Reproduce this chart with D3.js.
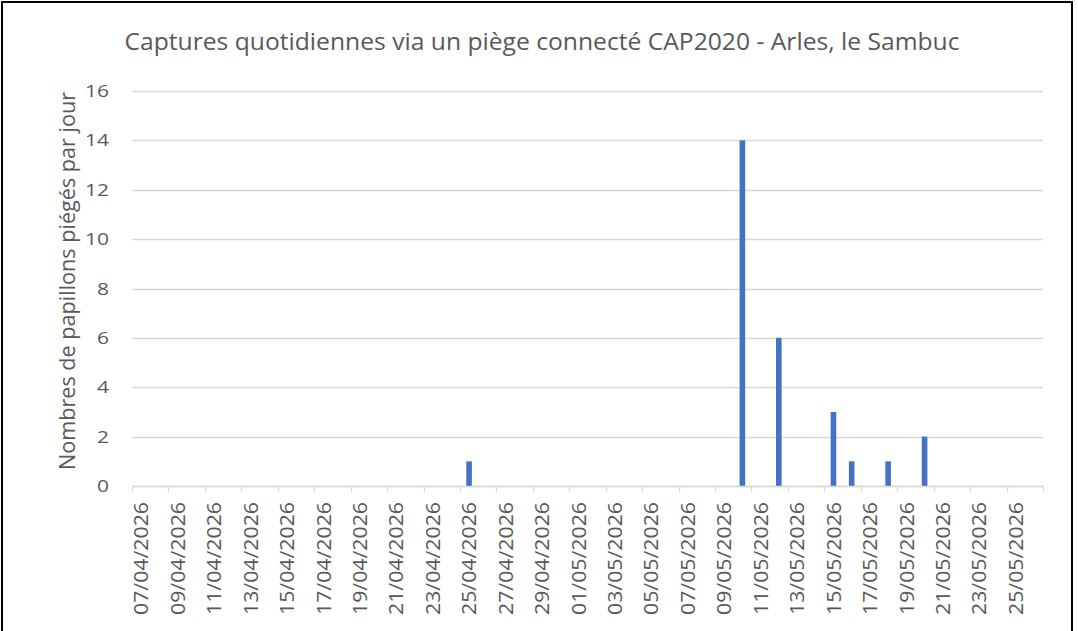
<!DOCTYPE html>
<html>
<head>
<meta charset="utf-8">
<script src="https://cdn.jsdelivr.net/npm/d3@7"></script>
<style>
  body { margin: 0; background: #fff; }
  svg { display: block; }
</style>
</head>
<body>
<div class="chart"></div>
<script>
// daily catches, one entry per day from 07/04/2026 to 26/05/2026
var days = [
  "07/04/2026","08/04/2026","09/04/2026","10/04/2026","11/04/2026","12/04/2026","13/04/2026",
  "14/04/2026","15/04/2026","16/04/2026","17/04/2026","18/04/2026","19/04/2026","20/04/2026",
  "21/04/2026","22/04/2026","23/04/2026","24/04/2026","25/04/2026","26/04/2026","27/04/2026",
  "28/04/2026","29/04/2026","30/04/2026","01/05/2026","02/05/2026","03/05/2026","04/05/2026",
  "05/05/2026","06/05/2026","07/05/2026","08/05/2026","09/05/2026","10/05/2026","11/05/2026",
  "12/05/2026","13/05/2026","14/05/2026","15/05/2026","16/05/2026","17/05/2026","18/05/2026",
  "19/05/2026","20/05/2026","21/05/2026","22/05/2026","23/05/2026","24/05/2026","25/05/2026",
  "26/05/2026"
];
var captures = [
  0,0,0,0,0,0,0,
  0,0,0,0,0,0,0,
  0,0,0,0,1,0,0,
  0,0,0,0,0,0,0,
  0,0,0,0,0,14,0,
  6,0,0,3,1,0,1,
  0,2,0,0,0,0,0,
  0
];
var yTicks = [0, 2, 4, 6, 8, 10, 12, 14, 16];
var tickLabels = days.filter(function (d, i) { return i % 2 === 0; });

var title = "Captures quotidiennes via un piège connecté CAP2020 - Arles, le Sambuc";
var yTitle = "Nombres de papillons piégés par jour";

var W = 1078, H = 631;
var plotLeft = 132, plotRight = 1043, plotTop = 91, plotBottom = 486;
var font = "'Open Sans', sans-serif";
var grey = "#595959";

var svg = d3.select(".chart")
    .append("svg")
    .attr("width", W)
    .attr("height", H)

// outer frame
svg.append("rect")
    .attr("x", 2).attr("y", 2)
    .attr("width", 1070).attr("height", 640)
    .attr("fill", "#fff")
    .attr("stroke", "#000")
    .attr("stroke-width", 2)

var x = d3.scaleBand()
    .domain(days)
    .range([plotLeft, plotRight])

var y = d3.scaleLinear()
    .domain([0, 16])
    .range([plotBottom, plotTop])

// gridlines
svg.append("g")
    .selectAll("line")
    .data(yTicks)
    .enter()
    .append("line")
    .attr("x1", plotLeft)
    .attr("x2", plotRight)
    .attr("y1", function (d) { return Math.round(y(d)) + 0.5; })
    .attr("y2", function (d) { return Math.round(y(d)) + 0.5; })
    .attr("stroke", "#d9d9d9")
    .attr("stroke-width", 1.3)

// y labels
svg.append("g")
    .selectAll("text")
    .data(yTicks)
    .enter()
    .append("text")
    .attr("x", 109)
    .attr("y", function (d) { return y(d); })
    .attr("dy", "0.36em")
    .attr("text-anchor", "end")
    .attr("font-family", font)
    .style("font-size", "17px")
    .attr("textLength", function (d) { return String(d).length * 12; })
    .attr("lengthAdjust", "spacingAndGlyphs")
    .attr("fill", grey)
    .text(function (d) { return d; })

// bars
svg.append("g")
    .selectAll("rect")
    .data(captures)
    .enter()
    .append("rect")
    .attr("x", function (d, i) { return x(days[i]) + x.bandwidth() / 2 - 2.8; })
    .attr("width", 5.6)
    .attr("y", function (d) { return y(d); })
    .attr("height", function (d) { return plotBottom - y(d); })
    .attr("fill", "#4472c4")

// x axis line and tick marks every 2 days
svg.append("line")
    .attr("x1", plotLeft).attr("x2", plotRight)
    .attr("y1", plotBottom + 0.5).attr("y2", plotBottom + 0.5)
    .attr("stroke", "#d9d9d9")
    .attr("stroke-width", 1.3)

var tickPos = tickLabels.map(function (d) { return x(d); });
tickPos.push(plotRight);
svg.append("g")
    .selectAll("line")
    .data(tickPos)
    .enter()
    .append("line")
    .attr("x1", function (d) { return Math.round(d) + 0.5; })
    .attr("x2", function (d) { return Math.round(d) + 0.5; })
    .attr("y1", plotBottom)
    .attr("y2", plotBottom + 6)
    .attr("stroke", "#d9d9d9")
    .attr("stroke-width", 1.3)

// x labels
svg.append("g")
    .selectAll("text")
    .data(tickLabels)
    .enter()
    .append("text")
    .attr("transform", function (d) {
        return "translate(" + (x(d) + x.bandwidth() / 2) + "," + (plotBottom + 16) + ") rotate(-90)";
    })
    .attr("dy", "0.36em")
    .attr("text-anchor", "end")
    .attr("font-family", font)
    .style("font-size", "20px")
    .attr("textLength", 113)
    .attr("lengthAdjust", "spacingAndGlyphs")
    .attr("fill", grey)
    .text(function (d) { return d; })

// title
svg.append("text")
    .attr("x", 542)
    .attr("y", 50)
    .attr("text-anchor", "middle")
    .attr("font-family", font)
    .style("font-size", "24px")
    .attr("textLength", 835)
    .attr("lengthAdjust", "spacingAndGlyphs")
    .attr("fill", grey)
    .text(title)

// y axis title
svg.append("text")
    .attr("transform", "translate(75," + 281 + ") rotate(-90)")
    .attr("text-anchor", "middle")
    .attr("font-family", font)
    .style("font-size", "22px")
    .attr("textLength", 378)
    .attr("lengthAdjust", "spacingAndGlyphs")
    .attr("fill", grey)
    .text(yTitle)
</script>
</body>
</html>
